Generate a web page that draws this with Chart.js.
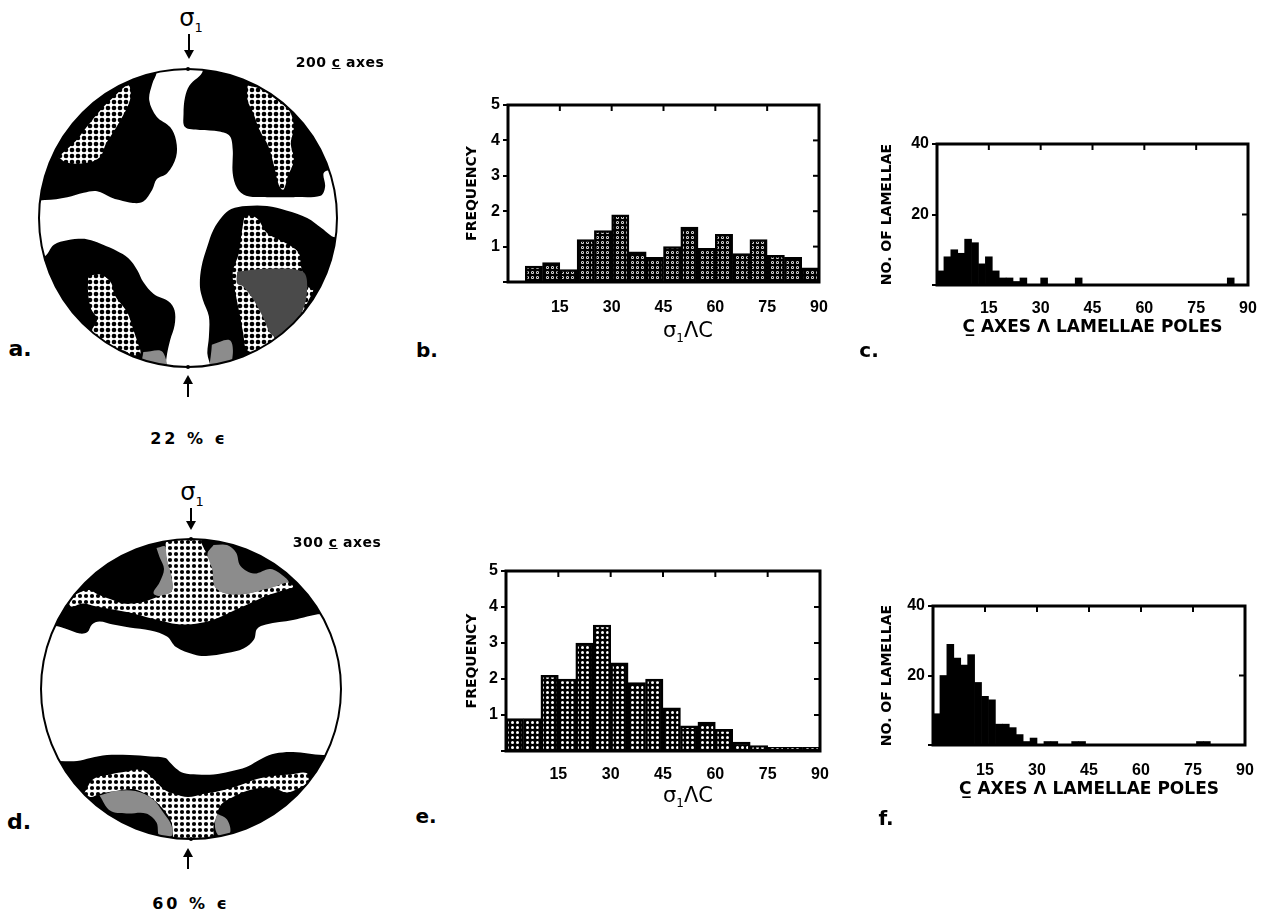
<!DOCTYPE html>
<html><head><meta charset="utf-8">
<script src="https://cdn.jsdelivr.net/npm/chart.js@4.4.1/dist/chart.umd.min.js"></script>
<style>
html,body{margin:0;padding:0;background:#fff;}
body{width:1269px;height:919px;position:relative;overflow:hidden;font-family:"DejaVu Sans",sans-serif;color:#000;}
canvas{position:absolute;}
.t{position:absolute;transform:translate(-50%,-50%);white-space:nowrap;font-weight:bold;line-height:1;}
.stem{position:absolute;width:2px;background:#000;}
.hd{position:absolute;width:0;height:0;border-left:5px solid transparent;border-right:5px solid transparent;}
</style></head><body>

<canvas id="netA" width="310" height="310" style="left:33px;top:63px"></canvas>
<canvas id="netD" width="312" height="312" style="left:35px;top:533px"></canvas>
<canvas id="histB" width="400" height="270" style="left:440px;top:90px"></canvas>
<canvas id="histC" width="400" height="240" style="left:865px;top:125px"></canvas>
<canvas id="histE" width="400" height="250" style="left:440px;top:555px"></canvas>
<canvas id="histF" width="400" height="230" style="left:865px;top:590px"></canvas>

<!-- stereonet a labels -->
<div class="t" style="left:191px;top:18px;font-size:24px;font-weight:normal">σ<span style="font-size:13px;position:relative;top:6px">1</span></div>
<div class="stem" style="left:188px;top:34px;height:18px"></div>
<div class="hd" style="left:184px;top:50px;border-top:9px solid #000"></div>
<div class="t" style="left:340px;top:62px;font-size:14px;letter-spacing:0.5px">200 <u>c</u> axes</div>
<div class="hd" style="left:183px;top:375px;border-bottom:9px solid #000"></div>
<div class="stem" style="left:187px;top:383px;height:14px"></div>
<div class="t" style="left:189px;top:439px;font-size:16px;letter-spacing:3px">22 % ϵ</div>
<div class="t" style="left:20px;top:349px;font-size:22px">a.</div>

<!-- stereonet d labels -->
<div class="t" style="left:192px;top:492px;font-size:24px;font-weight:normal">σ<span style="font-size:13px;position:relative;top:6px">1</span></div>
<div class="stem" style="left:190px;top:508px;height:15px"></div>
<div class="hd" style="left:186px;top:521px;border-top:9px solid #000"></div>
<div class="t" style="left:337px;top:542px;font-size:14px;letter-spacing:0.5px">300 <u>c</u> axes</div>
<div class="hd" style="left:183px;top:848px;border-bottom:9px solid #000"></div>
<div class="stem" style="left:187px;top:856px;height:13px"></div>
<div class="t" style="left:191px;top:904px;font-size:16px;letter-spacing:3px">60 % ϵ</div>
<div class="t" style="left:19px;top:822px;font-size:22px">d.</div>

<!-- histogram panel letters and sigma titles -->
<div class="t" style="left:688px;top:330px;font-size:21px;font-weight:normal">σ<span style="font-size:12px;position:relative;top:5px">1</span>ΛC</div>
<div class="t" style="left:688px;top:795px;font-size:21px;font-weight:normal">σ<span style="font-size:12px;position:relative;top:5px">1</span>ΛC</div>
<div class="t" style="left:427px;top:350px;font-size:20px">b.</div>
<div class="t" style="left:869px;top:350px;font-size:20px">c.</div>
<div class="t" style="left:426px;top:816px;font-size:20px">e.</div>
<div class="t" style="left:886px;top:818px;font-size:20px">f.</div>

<script>
// ---------- histogram data ----------
const xTicks = [0, 15, 30, 45, 60, 75, 90];

const anglesB = [7.5,12.5,17.5,22.5,27.5,32.5,37.5,42.5,47.5,52.5,57.5,62.5,67.5,72.5,77.5,82.5,87.5];
const freqB   = [0.45,0.55,0.35,1.2,1.45,1.9,0.85,0.7,1.0,1.55,0.95,1.35,0.8,1.2,0.75,0.7,0.4];

const anglesE = [2.5,7.5,12.5,17.5,22.5,27.5,32.5,37.5,42.5,47.5,52.5,57.5,62.5,67.5,72.5,77.5,82.5,87.5];
const freqE   = [0.9,0.9,2.1,2.0,3.0,3.5,2.45,1.9,2.0,1.2,0.7,0.8,0.6,0.25,0.15,0.1,0.1,0.1];

const anglesC = [1,3,5,7,9,11,13,15,17,19,21,23,25,27,29,31,33,35,37,39,41,43,45,47,49,51,53,55,57,59,61,63,65,67,69,71,73,75,77,79,81,83,85,87,89];
const countC  = [4,8,10,9,13,12,6,8,4,2, 2,1,2,0,0,2,0,0,0,0, 2,0,0,0,0,0,0,0,0,0, 0,0,0,0,0,0,0,0,0,0, 0,0,2,0,0];

const anglesF = [1,3,5,7,9,11,13,15,17,19,21,23,25,27,29,31,33,35,37,39,41,43,45,47,49,51,53,55,57,59,61,63,65,67,69,71,73,75,77,79,81,83,85,87,89];
const countF  = [9,20,29,25,23,26,18,14,13,6, 6,5,3,1,2,0,1,1,0,0, 1,1,0,0,0,0,0,0,0,0, 0,0,0,0,0,0,0,0,1,1, 0,0,0,0,0];

// ---------- stereonet contour regions (unit circle coords) ----------
const aBlackTL = [[-0.21,1.3],[-0.21,0.98],[-0.24,0.90],[-0.26,0.79],[-0.21,0.68],[-0.12,0.61],[-0.08,0.52],[-0.08,0.41],[-0.14,0.30],[-0.21,0.26],[-0.24,0.19],[-0.30,0.11],[-0.37,0.10],[-0.46,0.12],[-0.52,0.14],[-0.61,0.18],[-0.70,0.17],[-0.81,0.14],[-0.96,0.12],[-1.3,0.12],[-1.3,1.3],[-0.21,1.3]];
const aBlackTR = [[0.10,1.3],[0.10,0.99],[0.01,0.89],[-0.02,0.81],[-0.03,0.70],[-0.02,0.61],[0.08,0.59],[0.21,0.58],[0.28,0.55],[0.30,0.46],[0.30,0.30],[0.33,0.20],[0.39,0.15],[0.53,0.14],[0.71,0.14],[0.89,0.15],[0.92,0.21],[0.91,0.30],[0.95,0.32],[1.3,0.32],[1.3,1.3],[0.10,1.3]];
const aBlackBL = [[-1.3,-0.26],[-0.97,-0.26],[-0.90,-0.18],[-0.81,-0.15],[-0.71,-0.14],[-0.65,-0.15],[-0.57,-0.18],[-0.48,-0.22],[-0.40,-0.27],[-0.34,-0.35],[-0.30,-0.43],[-0.23,-0.51],[-0.13,-0.56],[-0.09,-0.62],[-0.09,-0.72],[-0.12,-0.82],[-0.14,-0.91],[-0.15,-1.0],[-0.15,-1.3],[-1.3,-1.3],[-1.3,-0.26]];
const aBlackBR = [[0.15,-1.3],[0.15,-1.0],[0.13,-0.91],[0.14,-0.80],[0.14,-0.66],[0.10,-0.55],[0.08,-0.46],[0.09,-0.33],[0.13,-0.19],[0.17,-0.08],[0.23,0.01],[0.29,0.06],[0.39,0.08],[0.53,0.08],[0.66,0.05],[0.80,0.00],[0.90,-0.07],[0.99,-0.13],[1.3,-0.13],[1.3,-1.3],[0.15,-1.3]];
const aGrayBL  = [[-0.30,-0.90],[-0.17,-0.90],[-0.15,-1.1],[-0.32,-1.1],[-0.30,-0.90]];
const aGrayBR  = [[0.33,-0.36],[0.53,-0.34],[0.77,-0.36],[0.80,-0.46],[0.77,-0.62],[0.68,-0.73],[0.60,-0.80],[0.55,-0.77],[0.51,-0.68],[0.44,-0.55],[0.37,-0.46],[0.33,-0.44],[0.33,-0.36]];
const aGrayBR2 = [[0.16,-0.85],[0.28,-0.82],[0.30,-0.92],[0.25,-1.1],[0.15,-1.1],[0.16,-0.85]];
const aDotsTL  = [[-0.87,0.41],[-0.75,0.52],[-0.68,0.61],[-0.59,0.72],[-0.50,0.81],[-0.40,0.89],[-0.39,0.79],[-0.48,0.61],[-0.55,0.50],[-0.59,0.41],[-0.68,0.37],[-0.81,0.37],[-0.87,0.41]];
const aDotsTR  = [[0.40,0.89],[0.51,0.86],[0.60,0.79],[0.68,0.72],[0.71,0.61],[0.69,0.50],[0.71,0.39],[0.67,0.28],[0.64,0.19],[0.61,0.22],[0.58,0.34],[0.54,0.48],[0.48,0.59],[0.44,0.70],[0.40,0.79],[0.40,0.89]];
const aDotsBL  = [[-0.67,-0.39],[-0.59,-0.38],[-0.52,-0.43],[-0.49,-0.52],[-0.43,-0.60],[-0.40,-0.65],[-0.37,-0.74],[-0.34,-0.83],[-0.32,-0.91],[-0.38,-0.92],[-0.43,-0.89],[-0.55,-0.87],[-0.62,-0.84],[-0.65,-0.77],[-0.61,-0.68],[-0.65,-0.61],[-0.67,-0.51],[-0.67,-0.39]];
const aDotsBR  = [[0.38,0.02],[0.46,0.00],[0.53,-0.10],[0.64,-0.16],[0.74,-0.23],[0.76,-0.33],[0.80,-0.46],[0.84,-0.48],[0.81,-0.55],[0.75,-0.66],[0.64,-0.80],[0.53,-0.89],[0.40,-0.89],[0.37,-0.77],[0.35,-0.66],[0.32,-0.51],[0.30,-0.37],[0.34,-0.24],[0.36,-0.10],[0.38,0.02]];

const dBlackTop = [[-1.3,0.42],[-0.91,0.42],[-0.83,0.40],[-0.74,0.37],[-0.69,0.38],[-0.66,0.43],[-0.61,0.45],[-0.52,0.43],[-0.41,0.41],[-0.27,0.39],[-0.16,0.35],[-0.10,0.28],[0.02,0.23],[0.10,0.22],[0.24,0.24],[0.35,0.27],[0.42,0.33],[0.44,0.40],[0.50,0.43],[0.68,0.46],[0.87,0.50],[1.3,0.50],[1.3,1.3],[-1.3,1.3],[-1.3,0.42]];
const dBlackBot = [[-1.3,-0.48],[-0.88,-0.48],[-0.76,-0.48],[-0.67,-0.46],[-0.56,-0.44],[-0.41,-0.44],[-0.27,-0.45],[-0.17,-0.46],[-0.14,-0.49],[-0.10,-0.53],[-0.05,-0.56],[0.04,-0.57],[0.15,-0.57],[0.26,-0.55],[0.37,-0.52],[0.48,-0.46],[0.56,-0.43],[0.68,-0.42],[0.88,-0.44],[1.3,-0.44],[1.3,-1.3],[-1.3,-1.3],[-1.3,-0.48]];
const dGrayTopR = [[0.15,0.96],[0.24,0.96],[0.30,0.91],[0.33,0.82],[0.42,0.77],[0.53,0.80],[0.62,0.75],[0.65,0.71],[0.55,0.68],[0.44,0.65],[0.33,0.63],[0.22,0.64],[0.16,0.68],[0.14,0.80],[0.11,0.90],[0.15,0.96]];
const dGrayTopL = [[-0.23,0.94],[-0.17,0.95],[-0.16,0.86],[-0.13,0.75],[-0.13,0.65],[-0.21,0.62],[-0.25,0.64],[-0.21,0.71],[-0.18,0.80],[-0.21,0.88],[-0.23,0.94]];
const dGrayBotL = [[-0.61,-0.71],[-0.50,-0.68],[-0.37,-0.68],[-0.26,-0.73],[-0.18,-0.83],[-0.13,-0.91],[-0.13,-0.98],[-0.21,-0.98],[-0.23,-0.89],[-0.30,-0.83],[-0.43,-0.83],[-0.54,-0.81],[-0.61,-0.71]];
const dGrayBotR = [[0.17,-0.83],[0.24,-0.87],[0.26,-0.96],[0.19,-0.98],[0.16,-0.92],[0.17,-0.83]];
const dDotsTop = [[-0.17,0.98],[-0.16,0.86],[-0.13,0.75],[-0.13,0.65],[-0.21,0.62],[-0.32,0.58],[-0.45,0.57],[-0.54,0.60],[-0.62,0.63],[-0.68,0.66],[-0.75,0.64],[-0.81,0.60],[-0.80,0.55],[-0.72,0.57],[-0.63,0.55],[-0.52,0.53],[-0.41,0.51],[-0.30,0.48],[-0.18,0.45],[-0.07,0.43],[0.06,0.44],[0.17,0.47],[0.28,0.52],[0.39,0.57],[0.50,0.62],[0.62,0.66],[0.68,0.68],[0.65,0.71],[0.55,0.68],[0.44,0.65],[0.33,0.63],[0.22,0.64],[0.16,0.68],[0.14,0.80],[0.10,0.91],[0.07,0.98],[0.07,1.2],[-0.17,1.2],[-0.17,0.98]];
const dDotsBot = [[-0.71,-0.69],[-0.65,-0.60],[-0.54,-0.57],[-0.43,-0.55],[-0.33,-0.54],[-0.25,-0.60],[-0.18,-0.67],[-0.11,-0.70],[-0.02,-0.72],[0.08,-0.70],[0.19,-0.68],[0.33,-0.64],[0.44,-0.60],[0.55,-0.58],[0.66,-0.57],[0.77,-0.56],[0.78,-0.62],[0.72,-0.66],[0.64,-0.69],[0.55,-0.66],[0.46,-0.66],[0.37,-0.68],[0.28,-0.72],[0.20,-0.77],[0.17,-0.85],[0.15,-0.92],[0.15,-1.2],[-0.12,-1.2],[-0.12,-1.0],[-0.13,-0.89],[-0.17,-0.82],[-0.26,-0.73],[-0.37,-0.67],[-0.50,-0.68],[-0.61,-0.70],[-0.67,-0.72],[-0.71,-0.69]];

// ---------- fills ----------
function makePattern(size, draw){
  const c = document.createElement('canvas'); c.width = size; c.height = size;
  const g = c.getContext('2d'); draw(g, size);
  return g.createPattern(c, 'repeat');
}
const ringFill = makePattern(5,(g,s)=>{g.fillStyle='#000';g.fillRect(0,0,s,s);g.fillStyle='#fff';g.beginPath();g.arc(2.5,2.5,1.5,0,7);g.fill();g.fillStyle='#000';g.beginPath();g.arc(2.5,2.5,0.7,0,7);g.fill();});
const dotFill  = makePattern(5,(g,s)=>{g.fillStyle='#000';g.fillRect(0,0,s,s);g.fillStyle='#fff';g.beginPath();g.arc(2.5,2.5,1.5,0,7);g.fill();});
const netFillA = makePattern(6,(g,s)=>{g.fillStyle='#fff';g.fillRect(0,0,s,s);g.fillStyle='#000';g.beginPath();g.arc(3,3,2.3,0,7);g.fill();});
const netFillD = makePattern(6,(g,s)=>{g.fillStyle='#fff';g.fillRect(0,0,s,s);g.fillStyle='#000';g.beginPath();g.arc(3,3,2.1,0,7);g.fill();});
const stippleDark = '#4a4a4a';
const stipple = '#8c8c8c';

Chart.defaults.color = '#000';
Chart.defaults.font.family = '"DejaVu Sans", sans-serif';

// ---------- stereonets ----------
const netPlugin = {
  id: 'netClip',
  beforeDatasetsDraw(chart){
    const {ctx, scales:{x, y}} = chart;
    const cx = x.getPixelForValue(0), cy = y.getPixelForValue(0), r = x.getPixelForValue(1) - cx;
    ctx.save(); ctx.beginPath(); ctx.arc(cx, cy, r, 0, Math.PI*2); ctx.clip();
  },
  afterDatasetsDraw(chart){
    const {ctx, scales:{x, y}} = chart;
    ctx.restore();
    const cx = x.getPixelForValue(0), cy = y.getPixelForValue(0), r = x.getPixelForValue(1) - cx;
    ctx.save(); ctx.beginPath(); ctx.arc(cx, cy, r, 0, Math.PI*2);
    ctx.lineWidth = 2; ctx.strokeStyle = '#000'; ctx.stroke();
    ctx.fillStyle = '#000';
    ctx.beginPath(); ctx.arc(cx, cy - r, 2, 0, Math.PI*2); ctx.fill();
    ctx.beginPath(); ctx.arc(cx, cy + r, 2, 0, Math.PI*2); ctx.fill();
    ctx.restore();
  }
};
function region(pts, fill, order){
  return {data: pts.map(([x, y]) => ({x, y})), backgroundColor: fill, borderColor: 'rgba(0,0,0,0)', borderWidth: 0, pointRadius: 0, fill: 'shape', tension: 0.35, order: order};
}
function stereonet(id, regions){
  // regions listed bottom layer first; higher 'order' is drawn earlier (underneath)
  const n = regions.length;
  return new Chart(document.getElementById(id), {
    type: 'line',
    data: {datasets: regions.map(([p, f], i) => region(p, f, n - i))},
    options: {
      responsive: false, animation: false, devicePixelRatio: 1,
      layout: {padding: 6},
      plugins: {legend: {display: false}, tooltip: {enabled: false}},
      scales: {x: {type: 'linear', min: -1, max: 1, display: false}, y: {type: 'linear', min: -1, max: 1, display: false}}
    },
    plugins: [netPlugin]
  });
}
stereonet('netA', [
  [aBlackTL,'#000'],[aBlackTR,'#000'],[aBlackBL,'#000'],[aBlackBR,'#000'],
  [aDotsTL,netFillA],[aDotsTR,netFillA],[aDotsBL,netFillA],[aDotsBR,netFillA],
  [aGrayBR,stippleDark],[aGrayBL,stipple],[aGrayBR2,stipple]
]);
stereonet('netD', [
  [dBlackTop,'#000'],[dBlackBot,'#000'],
  [dGrayTopR,stipple],[dGrayTopL,stipple],[dGrayBotL,stipple],[dGrayBotR,stipple],
  [dDotsTop,netFillD],[dDotsBot,netFillD]
]);

// ---------- histograms ----------
const framePlugin = {
  id: 'frame',
  afterDatasetsDraw(chart){
    const {ctx, chartArea: a, scales: {x, y}} = chart;
    ctx.save(); ctx.strokeStyle = '#000'; ctx.lineWidth = 3;
    ctx.strokeRect(a.left, a.top, a.right - a.left, a.bottom - a.top);
    ctx.lineWidth = 2;
    x.ticks.forEach(t => { if (t.value <= x.min || t.value >= x.max) return;
      const px = x.getPixelForValue(t.value); ctx.beginPath(); ctx.moveTo(px, a.top); ctx.lineTo(px, a.top + 6); ctx.stroke(); });
    y.ticks.forEach(t => { if (t.value <= y.min || t.value >= y.max) return;
      const py = y.getPixelForValue(t.value); ctx.beginPath(); ctx.moveTo(a.right, py); ctx.lineTo(a.right - 6, py); ctx.stroke(); });
    ctx.restore();
  }
};
const tickFont = {family: '"Liberation Sans", sans-serif', size: 16, weight: 'bold'};
function hist(id, angles, values, o){
  return new Chart(document.getElementById(id), {
    type: 'bar',
    data: {datasets: [{data: angles.map((a, i) => ({x: a, y: values[i]})), backgroundColor: o.fill, borderColor: '#000', borderWidth: o.border, borderSkipped: 'bottom', barPercentage: 1, categoryPercentage: 1}]},
    options: {
      responsive: false, animation: false, devicePixelRatio: 1,
      layout: {padding: o.pad},
      plugins: {legend: {display: false}, tooltip: {enabled: false}},
      scales: {
        x: {type: 'linear', min: 0, max: 90, offset: false,
            afterBuildTicks: s => { s.ticks = xTicks.map(v => ({value: v})); },
            grid: {display: false, offset: false}, border: {display: false},
            ticks: {padding: o.xpad, font: tickFont, maxRotation: 0, autoSkip: false, callback: v => v === 0 ? '' : v},
            title: o.xtitle ? {display: true, text: o.xtitle, font: {size: 17, weight: 'bold'}, padding: {top: 0, bottom: o.xtpad}} : {display: false},
            afterFit: s => { s.height = o.xh; }},
        y: {min: 0, max: o.ymax,
            grid: {drawOnChartArea: false, drawTicks: true, tickLength: 5, color: '#000', lineWidth: 2},
            border: {display: false},
            ticks: {stepSize: o.ystep, padding: 3, font: tickFont, callback: v => v === 0 ? '' : v},
            title: {display: true, text: o.ytitle, font: {size: 14, weight: 'bold'}, padding: {top: o.ytpad, bottom: 0}},
            afterFit: s => { s.width = o.yw; }}
      }
    },
    plugins: [framePlugin]
  });
}
hist('histB', anglesB, freqB, {fill: ringFill, border: 2.5, pad: {left: 22, top: 15, right: 21, bottom: 0}, xpad: 8, xh: 78, ymax: 5, ystep: 1, ytitle: 'FREQUENCY', ytpad: 2, yw: 46});
hist('histE', anglesE, freqE, {fill: dotFill, border: 2.5, pad: {left: 22, top: 16, right: 20, bottom: 0}, xpad: 6, xh: 54, ymax: 5, ystep: 1, ytitle: 'FREQUENCY', ytpad: 2, yw: 44});
hist('histC', anglesC, countC, {fill: '#000', border: 0, pad: {left: 10, top: 19, right: 17, bottom: 0}, xpad: 6, xh: 80, ymax: 40, ystep: 20, ytitle: 'NO. OF LAMELLAE', ytpad: 4, yw: 62, xtitle: 'C\u0332 AXES Λ LAMELLAE POLES', xtpad: 27});
hist('histF', anglesF, countF, {fill: '#000', border: 0, pad: {left: 10, top: 16, right: 20, bottom: 0}, xpad: 8, xh: 75, ymax: 40, ystep: 20, ytitle: 'NO. OF LAMELLAE', ytpad: 4, yw: 58, xtitle: 'C\u0332 AXES Λ LAMELLAE POLES', xtpad: 20});
</script>
</body></html>
